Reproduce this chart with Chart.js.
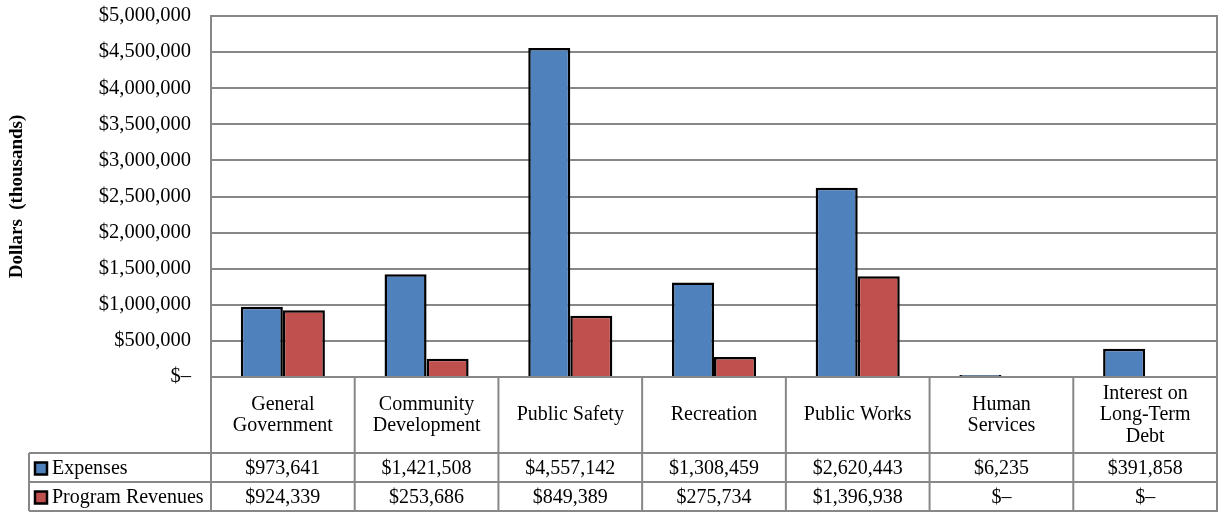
<!DOCTYPE html>
<html>
<head>
<meta charset="utf-8">
<script src="https://cdn.jsdelivr.net/npm/chart.js@4"></script>
<style>
  body { margin: 0; background: #fff; }
  #wrap { width: 1219px; height: 512px; }
</style>
</head>
<body>
<div id="wrap"><canvas id="chart"></canvas></div>
<script>
const categories = [
  ['General', 'Government'],
  ['Community', 'Development'],
  ['Public Safety'],
  ['Recreation'],
  ['Public Works'],
  ['Human', 'Services'],
  ['Interest on', 'Long-Term', 'Debt']
];
const expenses = [973641, 1421508, 4557142, 1308459, 2620443, 6235, 391858];
const revenues = [924339, 253686, 849389, 275734, 1396938, 0, 0];
const seriesNames = ['Expenses', 'Program Revenues'];
const seriesColors = ['#4F81BD', '#C0504D'];
const yMax = 5000000;
const yStep = 500000;

const gridGray = '#878787';
const serif = '"Liberation Serif", "Times New Roman", serif';

function money(v) {
  if (v === 0) return '$\u2013';
  return '$' + v.toLocaleString('en-US');
}

// draws the data table under the plot (category headers + values + legend keys)
const dataTable = {
  id: 'dataTable',
  afterDraw(chart) {
    const ctx = chart.ctx;
    const a = chart.chartArea;
    const x = chart.scales.x;
    const colW = (a.right - a.left) / categories.length;
    const headBot = a.bottom + 76;
    const rowH = 29;
    const rows = [headBot, headBot + rowH, headBot + rowH * 2];
    const legendLeft = 29;

    ctx.save();
    ctx.strokeStyle = gridGray;
    ctx.lineWidth = 2;

    // right border of plot + table
    ctx.beginPath();
    ctx.moveTo(a.right, a.top - 1);
    ctx.lineTo(a.right, rows[2]);
    ctx.stroke();

    // vertical lines between columns
    for (let i = 0; i <= categories.length; i++) {
      const px = a.left + i * colW;
      ctx.beginPath();
      ctx.moveTo(px, a.bottom);
      ctx.lineTo(px, rows[2]);
      ctx.stroke();
    }
    // legend column left edge
    ctx.beginPath();
    ctx.moveTo(legendLeft, rows[0]);
    ctx.lineTo(legendLeft, rows[2]);
    ctx.stroke();
    // horizontal row lines
    rows.forEach(y => {
      ctx.beginPath();
      ctx.moveTo(legendLeft, y);
      ctx.lineTo(a.right + 1, y);
      ctx.stroke();
    });

    ctx.fillStyle = '#000';
    ctx.font = '20px ' + serif;
    ctx.textAlign = 'center';
    ctx.textBaseline = 'middle';

    // category headers
    const headMid = (a.bottom + headBot) / 2;
    categories.forEach((lines, i) => {
      const cx = x.getPixelForValue(i);
      const lh = 21.5;
      const y0 = headMid - (lines.length - 1) * lh / 2;
      lines.forEach((t, j) => ctx.fillText(t, cx, y0 + j * lh));
    });

    // value rows
    [expenses, revenues].forEach((vals, r) => {
      const cy = rows[r] + rowH / 2 + 1;
      vals.forEach((v, i) => {
        ctx.fillText(money(v), x.getPixelForValue(i), cy);
      });
      // legend key
      ctx.fillStyle = seriesColors[r];
      ctx.fillRect(35, cy - 6, 12, 12);
      ctx.strokeStyle = '#000';
      ctx.lineWidth = 2.5;
      ctx.strokeRect(35, cy - 6, 12, 12);
      ctx.fillStyle = '#000';
      ctx.textAlign = 'left';
      ctx.fillText(seriesNames[r], 52, cy);
      ctx.textAlign = 'center';
    });
    ctx.restore();
  }
};

new Chart(document.getElementById('chart'), {
  type: 'bar',
  data: {
    labels: categories,
    datasets: [{
      label: seriesNames[0],
      data: expenses,
      backgroundColor: seriesColors[0],
      borderColor: '#000',
      borderWidth: 2.5,
      minBarLength: 2
    }, {
      label: seriesNames[1],
      data: revenues,
      backgroundColor: seriesColors[1],
      borderColor: '#000',
      borderWidth: 2.5
    }]
  },
  options: {
    responsive: true,
    maintainAspectRatio: false,
    animation: false,
    layout: { padding: { top: 16, right: 2, bottom: 135, left: 0 } },
    datasets: {
      bar: { barPercentage: 1, categoryPercentage: 0.585 }
    },
    scales: {
      x: { display: false },
      y: {
        min: 0,
        max: yMax,
        afterFit(scale) { scale.width = 211; },
        ticks: {
          stepSize: yStep,
          padding: 0,
          color: '#000',
          font: { family: serif, size: 20.5 },
          callback: v => money(v)
        },
        grid: { color: gridGray, lineWidth: 2, drawTicks: true, tickLength: 20, tickColor: 'rgba(0,0,0,0)' },
        border: { color: gridGray, width: 2 },
        title: {
          display: true,
          text: 'Dollars  (thousands)',
          color: '#000',
          font: { family: serif, size: 19, weight: 'bold' },
          padding: { top: 6, bottom: 0 }
        }
      }
    },
    plugins: {
      legend: { display: false },
      tooltip: { enabled: false }
    }
  },
  plugins: [dataTable]
});
</script>
</body>
</html>
